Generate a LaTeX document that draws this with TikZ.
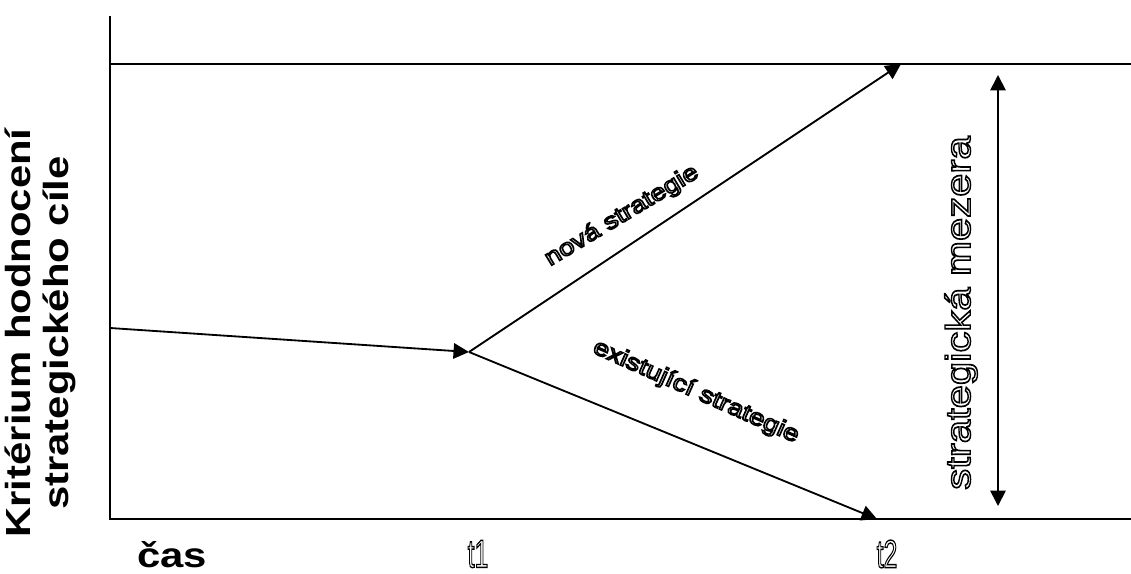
\documentclass[tikz,border=0pt]{standalone}
\usepackage{fontspec}
\setmainfont{Liberation Sans}
\usepackage{xcolor}
\usepackage{tikz}
\usetikzlibrary{arrows.meta, positioning}
\newcommand{\outl}[1]{\special{pdf:literal direct 1 Tr 1.0 w}#1\special{pdf:literal direct 0 Tr}}
\tikzset{
  line/.style={line width=1.3pt, color=black},
  arrow/.style={-{Triangle[length=11pt, width=11pt]}, line width=1.3pt, color=black},
  dblarrow/.style={{Triangle[length=11pt, width=11pt]}-{Triangle[length=11pt, width=11pt]}, line width=1.3pt, color=black},
  axislabel/.style={font=\fontsize{24.8}{27}\selectfont\bfseries, align=center, inner sep=0pt},
  tlabel/.style={font=\fontsize{28}{30}\selectfont, inner sep=0pt, xscale=0.63},
  stratlabel/.style={font=\fontsize{16.5}{18}\selectfont, inner sep=0pt}
}

\begin{document}
\begin{tikzpicture}[x=0.025cm, y=0.025cm]
  \path[use as bounding box] (0,0) rectangle (1131,573);

  \coordinate (o) at (110,54);
  \coordinate (ytop) at (110,557);
  \coordinate (xend) at (1131,54);
  \coordinate (goalL) at (110,509);
  \coordinate (goalR) at (1131,509);
  \coordinate (s0) at (110,245);
  \coordinate (s1) at (469,221);
  \coordinate (snew) at (901,509);
  \coordinate (sold) at (877,54);
  \coordinate (gapT) at (998,498);
  \coordinate (gapB) at (998,67);

  \draw [line] (ytop) -- (o) -- (xend);
  \draw [line] (goalL) -- (goalR);
  \draw [arrow] (s0) -- (s1);
  \draw [arrow] (s1) -- (snew);
  \draw [arrow] (s1) -- (sold);
  \draw [dblarrow] (gapT) -- (gapB);

  \node (crit) [axislabel, rotate=90, xscale=1.2] at (40,240) {Kritérium hodnocení\\strategického cíle};
  \node (cas) [axislabel, xscale=1.2] at (172,18) {čas};
  \node (t1) [tlabel] at (478,19) {\outl{t1}};
  \node (t2) [tlabel] at (887,19) {\outl{t2}};
  \node (nova) [stratlabel, rotate=31, xscale=1.2] at (622,357) {\outl{nová strategie}};
  \node (exist) [stratlabel, rotate=-24, xscale=1.2] at (696,181) {\outl{existující strategie}};
  \node (gap) [font=\fontsize{24.8}{27}\selectfont, inner sep=0pt, rotate=90, xscale=1.2] at (961,260) {\outl{strategická mezera}};
\end{tikzpicture}
\end{document}
